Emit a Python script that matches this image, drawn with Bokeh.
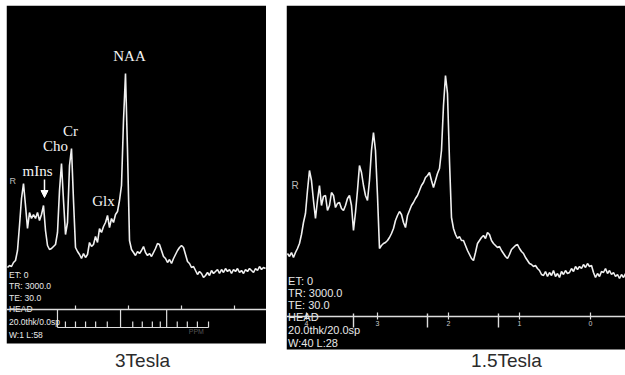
import numpy as np
from bokeh.plotting import figure
from bokeh.models import Range1d, Arrow, NormalHead, BoxAnnotation
from bokeh.layouts import row
from bokeh.core.properties import value
from bokeh.embed import file_html
from bokeh.resources import INLINE

# ---------------- data ----------------
# 3 Tesla spectrum: intensities on a uniform chemical-shift grid (ppm, decreasing)
PPM_3T_START, PPM_3T_END = 4.283, -0.585
INT_3T = [76, 78, 77, 81, 83, 93, 118, 145, 160, 138,
          115, 131, 125, 129, 125, 131, 123, 129, 138, 113,
          98, 94, 95, 97, 99, 111, 153, 180, 143, 109,
          121, 178, 195, 143, 96, 92, 89, 85, 90, 86,
          89, 101, 97, 99, 107, 101, 115, 111, 117, 121,
          128, 116, 125, 121, 129, 132, 143, 158, 223, 270,
          193, 103, 94, 91, 88, 92, 90, 93, 97, 91,
          88, 90, 87, 91, 95, 100, 99, 93, 87, 85,
          81, 84, 80, 85, 89, 93, 96, 98, 96, 89,
          82, 80, 76, 77, 73, 69, 72, 70, 66, 68,
          71, 68, 73, 70, 72, 74, 70, 74, 71, 75,
          72, 74, 70, 74, 72, 75, 71, 73, 70, 74,
          72, 75, 73, 71, 75, 73, 77, 74, 76, 75]

# 1.5 Tesla spectrum
PPM_15T_START, PPM_15T_END = 4.268, -0.493
INT_15T = [96, 93, 97, 92, 97, 101, 106, 115, 127, 136,
           159, 179, 169, 149, 131, 149, 164, 144, 153, 154,
           139, 144, 157, 154, 142, 146, 147, 141, 139, 144,
           151, 154, 144, 119, 137, 159, 184, 177, 164, 154,
           149, 169, 199, 217, 199, 154, 101, 104, 106, 107,
           109, 112, 116, 121, 129, 134, 138, 135, 127, 122,
           134, 139, 144, 147, 151, 154, 159, 164, 167, 172,
           174, 177, 169, 162, 169, 176, 181, 199, 244, 274,
           256, 189, 132, 121, 115, 111, 113, 109, 109, 104,
           99, 95, 91, 89, 97, 106, 109, 112, 114, 111,
           117, 115, 109, 106, 104, 102, 103, 99, 96, 93,
           91, 95, 100, 102, 104, 105, 101, 98, 96, 92,
           89, 86, 85, 83, 84, 81, 79, 75, 74, 78,
           73, 77, 74, 79, 73, 76, 72, 78, 75, 79,
           76, 77, 81, 78, 83, 80, 83, 81, 85, 82,
           86, 83, 84, 77, 72, 76, 73, 78, 77, 81,
           76, 79, 75, 77, 73, 75, 71, 75, 72, 76]

PEAK_NAMES = ["NAA", "Cr", "Cho", "mIns", "Glx"]
PEAK_LABEL_PPM = [1.981, 3.094, 3.377, 3.717, 2.472]
PEAK_LABEL_H = [288, 213, 198, 173, 143]

INFO_3T = ["ET: 0", "TR: 3000.0", "TE: 30.0", "HEAD", "20.0thk/0.0sp", "W:1 L:58"]
INFO_15T = ["ET: 0", "TR: 3000.0", "TE: 30.0", "HEAD", "20.0thk/20.0sp", "W:40 L:28"]

AXIS_TICKS_3T = [3, 2, 1, 0]
RULER_MAJOR_3T = [3.34, 2.15, 1.28]
RULER_MINOR_3T = [3.19, 3.00, 2.81, 2.62, 2.40, 1.92, 1.74, 1.55, 1.40, 1.08, 0.89, 0.70, 0.49]

AXIS_TICKS_15T = [4, 3, 2, 1, 0]
AXIS_TICK_LABELS_15T = ["4", "3", "2", "1", "0"]
AXIS_MAJOR_15T = [3.338, 2.296, 1.296]

PANEL_TITLES = ["3Tesla", "1.5Tesla"]

WHITE = "#f0f0f0"
INFO_FONT = value("'Liberation Sans', sans-serif")


def make_panel(left, fw, ybottom, ytop, xr):
    p = figure(frame_width=fw, frame_height=370, x_range=Range1d(*xr),
               y_range=Range1d(ybottom, ytop),
               output_backend="svg", toolbar_location=None,
               x_axis_location=None, y_axis_location=None,
               min_border_left=left, min_border_right=0, min_border_top=5,
               min_border_bottom=0,
               background_fill_color="white", border_fill_color="white",
               outline_line_color=None)
    p.xgrid.grid_line_color = None
    p.ygrid.grid_line_color = None
    p.add_layout(BoxAnnotation(bottom=0, fill_color="black", fill_alpha=1.0,
                               line_color=None, level="underlay"))
    return p


# ---------------- 3 Tesla panel ----------------
p1 = make_panel(6, 260, -32, 338, ((234 - 6) / 53, (234 - 266) / 53))
ppm3 = np.linspace(PPM_3T_START, PPM_3T_END, len(INT_3T))
p1.line(ppm3, INT_3T, line_color=WHITE, line_width=1.6)

p1.text(x=PEAK_LABEL_PPM, y=PEAK_LABEL_H, text=PEAK_NAMES,
        text_font=value("Liberation Serif"), text_font_size=value("15px"),
        text_color="#f4f4f4", text_align="center", text_baseline="middle")
p1.add_layout(Arrow(end=NormalHead(size=7, fill_color="white", line_color="white"),
                    x_start=3.585, y_start=164, x_end=3.585, y_end=146,
                    line_color="white", line_width=1.5))
p1.text(x=[4.245], y=[163], text=["R"], text_font=INFO_FONT, text_font_size=value("9px"),
        text_color="#bbbbbb", text_align="left", text_baseline="middle")

p1.text(x=[4.255] * len(INFO_3T), y=[69, 58, 46, 35, 22, 9], text=INFO_3T,
        text_font=INFO_FONT, text_font_size=value("8.5px"),
        text_color="#e8e8e8", text_align="left", text_baseline="middle")
p1.segment(x0=[4.302], y0=[34], x1=[-0.604], y1=[34], line_color="#dddddd", line_width=1.6)
p1.segment(x0=AXIS_TICKS_3T, y0=[34] * 4, x1=AXIS_TICKS_3T, y1=[38] * 4,
           line_color="#dddddd", line_width=1.2)
p1.segment(x0=RULER_MAJOR_3T, y0=[16] * 3, x1=RULER_MAJOR_3T, y1=[34] * 3,
           line_color="#dddddd", line_width=1.2)
p1.segment(x0=RULER_MINOR_3T, y0=[16] * len(RULER_MINOR_3T), x1=RULER_MINOR_3T,
           y1=[22] * len(RULER_MINOR_3T), line_color="#dddddd", line_width=1.2)
p1.segment(x0=[RULER_MAJOR_3T[0]], y0=[16], x1=[RULER_MINOR_3T[-1]], y1=[16],
           line_color="#dddddd", line_width=1.2)
p1.text(x=[0.72], y=[12], text=["PPM"], text_font=INFO_FONT, text_font_size=value("7px"),
        text_color="#555555", text_align="center", text_baseline="middle")
p1.text(x=[1.736], y=[-17], text=[PANEL_TITLES[0]], text_align="center",
        text_baseline="middle", text_font=value("Liberation Sans"),
        text_font_size=value("19px"), text_color="#2b2b2b")

# ---------------- 1.5 Tesla panel ----------------
p2 = make_panel(0, 339, -26, 344, ((590 - 286) / 71, (590 - 625) / 71))
ppm15 = np.linspace(PPM_15T_START, PPM_15T_END, len(INT_15T))
p2.line(ppm15, INT_15T, line_color=WHITE, line_width=1.6)
p2.text(x=[4.21], y=[164], text=["R"], text_font=INFO_FONT, text_font_size=value("10px"),
        text_color="#bbbbbb", text_align="left", text_baseline="middle")
p2.text(x=[4.26] * len(INFO_15T), y=[69, 57, 45, 33, 20, 7], text=INFO_15T,
        text_font=INFO_FONT, text_font_size=value("11px"),
        text_color="#e8e8e8", text_align="left", text_baseline="middle")
p2.segment(x0=[4.282], y0=[33], x1=[-0.493], y1=[33], line_color="#dddddd", line_width=1.6)
p2.segment(x0=AXIS_TICKS_15T, y0=[30] * 5, x1=AXIS_TICKS_15T, y1=[37] * 5,
           line_color="#dddddd", line_width=1.2)
p2.segment(x0=AXIS_MAJOR_15T, y0=[22] * 3, x1=AXIS_MAJOR_15T, y1=[36] * 3,
           line_color="#dddddd", line_width=1.4)
p2.text(x=AXIS_TICKS_15T, y=[26] * 5, text=AXIS_TICK_LABELS_15T, text_font=INFO_FONT,
        text_font_size=value("7px"), text_color="#cccccc", text_align="center",
        text_baseline="middle")
p2.text(x=[1.183], y=[-11], text=[PANEL_TITLES[1]], text_align="center",
        text_baseline="middle", text_font=value("Liberation Sans"),
        text_font_size=value("19px"), text_color="#2b2b2b")

layout = row(p1, p2, spacing=20)
open("out.html", "w").write(file_html(layout, INLINE))
